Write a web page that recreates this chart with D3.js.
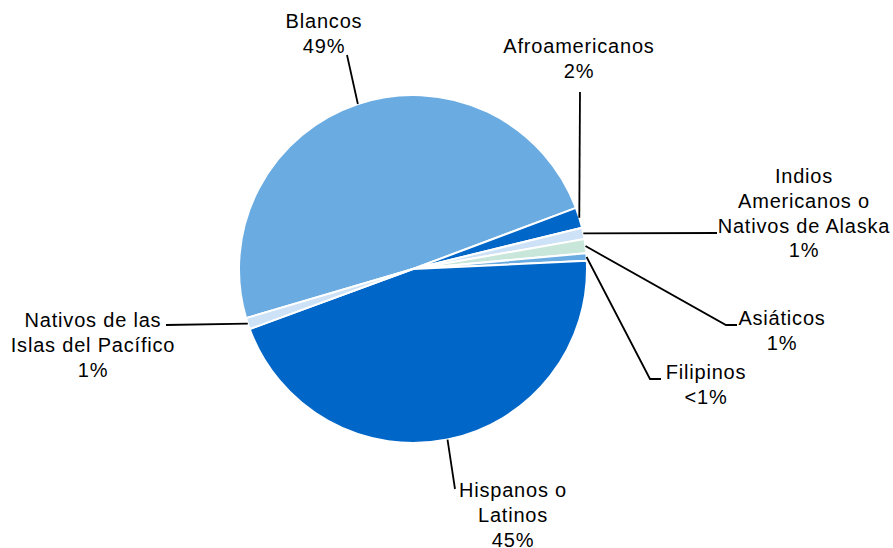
<!DOCTYPE html>
<html>
<head>
<meta charset="utf-8">
<script src="https://cdn.jsdelivr.net/npm/d3@7/dist/d3.min.js"></script>
<style>
  body { margin: 0; background: #fff; }
  .lbl { font-family: "Liberation Sans", Arial, sans-serif; font-size: 20px; letter-spacing: 0.8px; fill: #000; }
  .leader { fill: none; stroke: #000; stroke-width: 1.8; }
</style>
</head>
<body>
<svg width="893" height="548"></svg>
<script>
// data
var categories = ["Blancos", "Afroamericanos", "Indios Americanos o Nativos de Alaska",
  "Asiáticos", "Filipinos", "Hispanos o Latinos", "Nativos de las Islas del Pacífico"];
var values = [48.8, 1.9, 1.05, 1.3, 0.7, 45.1, 1.05];
var pctLabels = ["49%", "2%", "1%", "1%", "<1%", "45%", "1%"];
var nameLines = [["Blancos"], ["Afroamericanos"], ["Indios", "Americanos o", "Nativos de Alaska"],
  ["Asiáticos"], ["Filipinos"], ["Hispanos o", "Latinos"], ["Nativos de las", "Islas del Pacífico"]];

var colors = ["#6aace2", "#0066c8", "#cde2f6", "#c9e6da", "#6aace2", "#0066c8", "#cde2f6"];

// label layout: text centre x, first baseline y, leader path bends (after arc point)
var layout = [
  { x: 324, y: 28, bends: [[347, 55]] },
  { x: 579, y: 53, bends: [[580, 92]] },
  { x: 804, y: 183, bends: [[717, 233]] },
  { x: 782, y: 325, bends: [[726, 325], [737, 325]] },
  { x: 706, y: 379, bends: [[650, 379], [661, 379]] },
  { x: 513, y: 497, bends: [[455, 489]] },
  { x: 93, y: 327, bends: [[166, 325]] }
];

var svg = d3.select("svg");
var cx = 413, cy = 269, r = 174;

var pie = d3.pie().sort(null).value(function(d) { return d; })
  .startAngle(-106.4 * Math.PI / 180)
  .endAngle((360 - 106.4) * Math.PI / 180);
var arcs = pie(values);

var arc = d3.arc().innerRadius(0).outerRadius(r);

var g = svg.append("g").attr("transform", "translate(" + cx + "," + cy + ")");

g.selectAll("path.slice")
  .data(arcs)
  .enter()
  .append("path")
  .attr("class", "slice")
  .attr("d", arc)
  .attr("fill", function(d, i) { return colors[i]; })
  .attr("stroke", "#fff")
  .attr("stroke-width", 2);

// leader lines
arcs.forEach(function(d, i) {
  var a = (d.startAngle + d.endAngle) / 2;
  var p0 = [cx + r * Math.sin(a), cy - r * Math.cos(a)];
  var pts = [p0].concat(layout[i].bends);
  svg.append("path")
    .attr("class", "leader")
    .attr("d", d3.line()(pts));
});

// labels
categories.forEach(function(c, i) {
  var lines = nameLines[i].concat([pctLabels[i]]);
  var t = svg.append("text")
    .attr("class", "lbl")
    .attr("text-anchor", "middle");
  lines.forEach(function(s, k) {
    t.append("tspan")
      .attr("x", layout[i].x)
      .attr("y", layout[i].y + k * 24.8)
      .text(s);
  });
});
</script>
</body>
</html>
